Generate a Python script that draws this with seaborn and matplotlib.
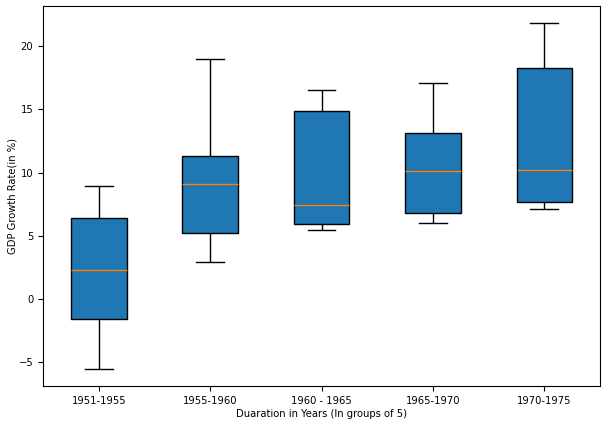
import pandas as pd
import numpy as np
import matplotlib
matplotlib.use("Agg")
import matplotlib.pyplot as plt
import seaborn as sns

periods = ["1951-1955", "1955-1960", "1960 - 1965", "1965-1970", "1970-1975"]
g1951 = [-5.5, -1.6, 2.3, 6.4, 8.9]
g1955 = [2.9, 5.2, 9.1, 11.3, 19.0]
g1960 = [5.5, 5.9, 7.4, 14.9, 16.5]
g1965 = [6.0, 6.8, 10.1, 13.1, 17.1]
g1970 = [7.1, 7.7, 10.2, 18.3, 21.8]

rows = []
for p, vals in zip(periods, [g1951, g1955, g1960, g1965, g1970]):
    for v in vals:
        rows.append({"Period": p, "Growth": v})
df = pd.DataFrame(rows)

plt.rcParams['font.family'] = ['DejaVu Sans']
fig = plt.figure(figsize=(6.08, 4.25), dpi=100)
ax = fig.add_axes([0.0707, 0.0918, 0.9163, 0.8942])

sns.boxplot(data=df, x="Period", y="Growth", order=periods, ax=ax,
            color="#1f77b4", saturation=1, width=0.5, linecolor="black",
            linewidth=1, whis=1.5,
            medianprops={"color": "#ff7f0e", "linewidth": 1})

ax.set_xlabel("Duaration in Years (In groups of 5)", fontsize=7.2, labelpad=2.5)
ax.set_ylabel("GDP Growth Rate(in %)", fontsize=7.2, labelpad=1)
ax.tick_params(labelsize=7.2, length=3.5)

fig.savefig("out.png", dpi=100)
